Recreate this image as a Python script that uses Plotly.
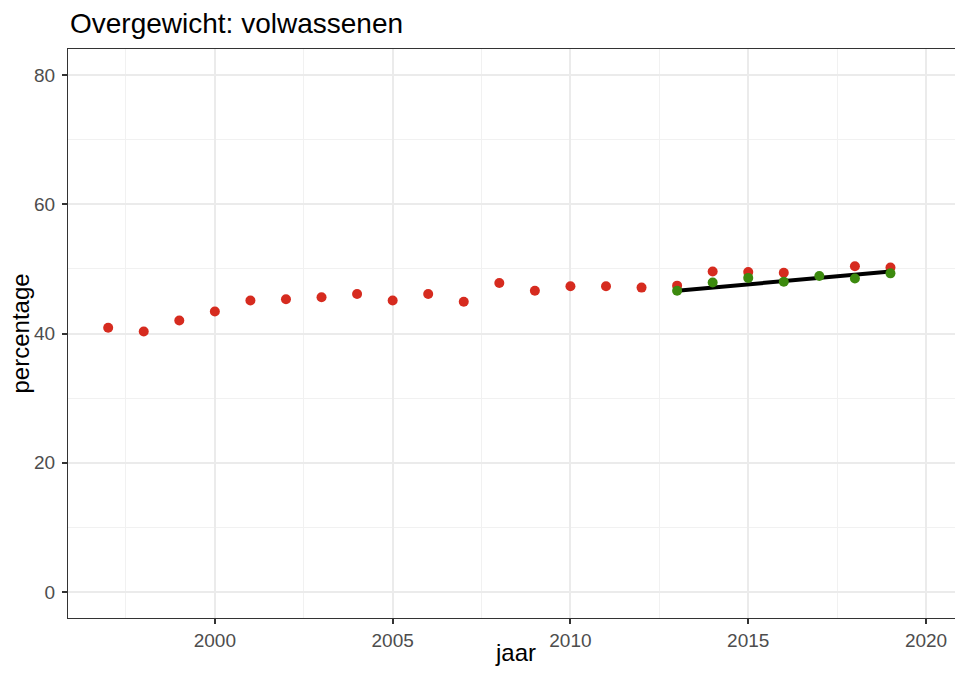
import plotly.graph_objects as go

# Overgewicht volwassenen (percentage), gemeten waarden
jaren = [1997, 1998, 1999, 2000, 2001, 2002, 2003, 2004, 2005, 2006, 2007, 2008,
         2009, 2010, 2011, 2012, 2013, 2014, 2015, 2016, 2018, 2019]
percentage = [40.9, 40.3, 42.0, 43.4, 45.1, 45.3, 45.6, 46.1, 45.1, 46.1, 44.9, 47.8,
              46.6, 47.3, 47.3, 47.1, 47.4, 49.6, 49.5, 49.4, 50.4, 50.2]

# nieuwe reeks vanaf 2013
jaren_nieuw = [2013, 2014, 2015, 2016, 2017, 2018, 2019]
percentage_nieuw = [46.6, 47.9, 48.6, 48.0, 48.9, 48.5, 49.3]

# trendlijn (begin- en eindpunt)
trend_jaren = [2013, 2019]
trend_waarde = [46.6, 49.6]

x_ticks = [2000, 2005, 2010, 2015, 2020]
y_ticks = [0, 20, 40, 60, 80]

ROOD = "#D62B1F"
GROEN = "#3C8A0E"
GRID = "#EBEBEB"
GRID_MINOR = "#F1F1F1"
FONT = "Liberation Sans, Arial, sans-serif"

# the page body adds ~8px offset at top/left, so the figure is sized to fit
W, H = 955, 669
L, R, T, B = 60, 0, 41, 59
PW, PH = W - L - R, H - T - B

fig = go.Figure()

fig.add_trace(go.Scatter(
    x=jaren, y=percentage, mode="markers",
    marker=dict(color=ROOD, size=10), showlegend=False))

fig.add_trace(go.Scatter(
    x=trend_jaren, y=trend_waarde, mode="lines",
    line=dict(color="black", width=4), showlegend=False))

fig.add_trace(go.Scatter(
    x=jaren_nieuw, y=percentage_nieuw, mode="markers",
    marker=dict(color=GROEN, size=10), showlegend=False))

axis_common = dict(
    showline=True, linecolor="#333333", linewidth=1, mirror=True,
    ticks="outside", ticklen=5, tickwidth=2, tickcolor="#333333",
    tickfont=dict(size=19, color="#4D4D4D", family=FONT),
    showgrid=True, gridcolor=GRID, gridwidth=2, zeroline=False,
    automargin=False,
)

fig.update_xaxes(
    range=[1995.87, 2021.04], tickvals=x_ticks,
    minor=dict(dtick=2.5, tick0=1997.5, showgrid=True, gridcolor=GRID_MINOR, gridwidth=1),
    **axis_common)

fig.update_yaxes(
    range=[-4, 84], tickvals=y_ticks, ticklabelstandoff=3,
    minor=dict(dtick=10, showgrid=True, gridcolor=GRID_MINOR, gridwidth=1),
    **axis_common)

# axis titles as annotations so the panel keeps its exact size
fig.add_annotation(text="jaar", xref="paper", yref="paper", x=0.5, y=-34 / PH,
                   xanchor="center", yanchor="middle", showarrow=False,
                   font=dict(size=24, color="black", family=FONT))
fig.add_annotation(text="percentage", xref="paper", yref="paper", x=-48 / PW, y=0.5,
                   xanchor="center", yanchor="middle", textangle=-90, showarrow=False,
                   font=dict(size=24, color="black", family=FONT))

fig.update_layout(
    width=W, height=H,
    margin=dict(l=L, r=R, t=T, b=B),
    paper_bgcolor="white", plot_bgcolor="white",
    title=dict(text="Overgewicht: volwassenen", x=62 / W, xanchor="left",
               xref="container", y=1 - 5 / H, yanchor="top", yref="container",
               font=dict(size=28, color="black", family=FONT)),
)

fig.write_html("out.html")
